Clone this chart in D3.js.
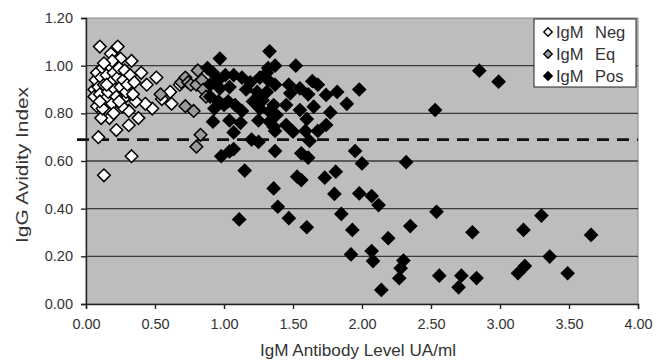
<!DOCTYPE html>
<html><head><meta charset="utf-8">
<script src="https://cdn.jsdelivr.net/npm/d3@7"></script>
<style>
body{margin:0;background:#fff}
svg{display:block}
text{font-family:Arial,"Liberation Sans",sans-serif;fill:#333}
</style>
</head><body>
<svg id="c" width="666" height="362"></svg>
<script>
// ---- data ----
const xTicks=[0,0.5,1,1.5,2,2.5,3,3.5,4];
const yTicks=[0,0.2,0.4,0.6,0.8,1.0,1.2];
const thresholdY=0.69;
const xTitle="IgM Antibody Level UA/ml";
const yTitle="IgG Avidity Index";
const legendPrefix="IgM";
const seriesNames=["Neg","Eq","Pos"];

const negX=[0.10,0.23,0.18,0.25,0.33,0.40,0.51,0.44,0.61,0.62,0.55,0.48,0.43,0.38,0.31,0.22,0.17,0.11,0.09,0.33,0.13,0.31,0.27,0.36,
 0.06,0.07,0.06,0.08,0.09,0.10,0.11,0.12,0.13,0.14,0.15,0.16,0.17,0.18,0.19,0.20,0.21,0.22,0.23,0.24,0.25,0.26,0.27,0.28,0.29,0.30,0.32,0.34,0.35,
 0.08,0.12,0.20,0.15,0.19,0.13,0.24,0.10,0.68];
const negY=[1.08,1.08,1.05,1.03,1.02,0.97,0.95,0.92,0.89,0.84,0.86,0.82,0.84,0.78,0.75,0.73,0.78,0.78,0.70,0.62,0.54,0.81,0.86,0.85,
 0.90,0.94,0.87,0.97,0.91,0.88,0.95,0.99,0.92,0.86,0.96,0.89,1.00,0.93,0.84,0.97,0.90,0.87,0.95,0.99,0.91,0.83,0.94,0.98,0.89,0.92,0.96,0.88,0.93,
 0.83,0.82,0.80,0.92,1.02,1.01,0.85,0.85,0.92];

const eqX=[0.54,0.69,0.72,0.74,0.76,0.81,0.80,0.84,0.85,0.87,0.72,0.78,0.83,0.80];
const eqY=[0.88,0.93,0.95,0.93,0.92,0.98,0.92,0.94,0.90,0.87,0.83,0.81,0.71,0.66];

const posX=[0.97,0.92,0.96,1.01,1.07,1.13,1.19,1.26,1.31,0.90,0.97,1.04,1.16,1.24,0.90,0.96,1.03,1.08,1.21,1.28,
 0.93,1.00,1.26,0.92,1.04,1.12,1.13,1.25,1.07,1.20,1.25,1.07,1.04,0.98,1.15,0.88,1.32,1.33,1.37,1.52,
 1.98,1.89,1.64,1.68,1.82,1.74,1.61,1.55,1.47,1.48,1.37,1.32,1.65,1.55,1.45,1.36,1.77,1.60,1.74,1.68,
 1.45,1.50,1.59,1.62,1.37,1.37,1.95,1.56,1.61,2.00,1.53,1.56,1.73,1.81,1.31,1.33,1.33,1.36,1.38,2.32,
 1.98,2.07,2.12,1.85,2.54,3.30,1.93,2.35,2.19,2.80,3.17,3.66,1.92,2.07,2.08,2.30,2.28,2.27,2.14,2.56,
 2.72,2.70,2.83,3.18,3.13,3.36,3.49,1.36,1.80,1.39,1.47,1.60,1.11,2.85,2.99,2.53];
const posY=[1.03,0.97,0.94,0.96,0.96,0.95,0.93,0.95,0.97,0.92,0.905,0.91,0.90,0.89,0.87,0.85,0.85,0.835,0.85,0.855,
 0.82,0.835,0.82,0.765,0.77,0.76,0.81,0.77,0.72,0.69,0.68,0.65,0.64,0.62,0.56,0.99,0.99,1.06,1.00,1.00,
 0.90,0.84,0.935,0.92,0.89,0.877,0.88,0.905,0.92,0.884,0.92,0.94,0.828,0.814,0.835,0.835,0.804,0.776,0.751,0.726,
 0.751,0.723,0.726,0.684,0.726,0.642,0.642,0.632,0.614,0.59,0.534,0.52,0.53,0.555,0.89,0.807,0.765,0.744,0.793,0.595,
 0.464,0.453,0.415,0.378,0.387,0.371,0.311,0.327,0.276,0.301,0.311,0.29,0.208,0.222,0.18,0.182,0.15,0.108,0.059,0.119,
 0.119,0.07,0.109,0.159,0.129,0.199,0.129,0.485,0.462,0.408,0.36,0.322,0.355,0.979,0.933,0.814];

// ---- chart ----
const svg=d3.select("#c");
const L=86,R=638,T=18,B=304;
const x=d3.scaleLinear().domain([0,4]).range([L,R]);
const y=d3.scaleLinear().domain([0,1.2]).range([B,T]);

svg.append("rect").attr("x",L).attr("y",T).attr("width",R-L).attr("height",B-T)
  .attr("fill","#bdbdbd").attr("stroke","#8a8a8a").attr("stroke-width",1);

// gridlines
svg.append("g").selectAll("line").data(yTicks.filter(d=>d>0&&d<1.2)).join("line")
  .attr("x1",L).attr("x2",R).attr("y1",d=>y(d)).attr("y2",d=>y(d))
  .attr("stroke","#3a3a3a").attr("stroke-width",1.3);

// threshold dashed line
svg.append("line").attr("x1",x(0)-9).attr("x2",R).attr("y1",y(thresholdY)).attr("y2",y(thresholdY))
  .attr("stroke","#111").attr("stroke-width",2.8).attr("stroke-dasharray","12,8");

const fmt=d3.format(".2f");
// axes
const xAxis=svg.append("g").attr("transform",`translate(0,${B})`)
  .call(d3.axisBottom(x).tickValues(xTicks).tickFormat(fmt).tickSizeOuter(0).tickSize(5).tickPadding(10));
const yAxis=svg.append("g").attr("transform",`translate(${L},0)`)
  .call(d3.axisLeft(y).tickValues(yTicks).tickFormat(fmt).tickSizeOuter(0).tickSize(5).tickPadding(8));
[xAxis,yAxis].forEach(a=>{
  a.select(".domain").attr("stroke","#222").attr("stroke-width",1.4);
  a.selectAll(".tick line").attr("stroke","#222").attr("stroke-width",1.4);
  a.selectAll(".tick text").attr("font-size",14.5).attr("fill","#3a3a3a").attr("font-family","Arial, Liberation Sans, sans-serif");
});

// diamond symbol
const diamond={draw(ctx,size){const r=Math.sqrt(size/2);ctx.moveTo(0,-r);ctx.lineTo(r,0);ctx.lineTo(0,r);ctx.lineTo(-r,0);ctx.closePath();}};
const sym=d3.symbol().type(diamond).size(2*6.3*6.3);
const series=[
  {xs:negX,ys:negY,fill:"#ffffff"},
  {xs:eqX,ys:eqY,fill:"#9a9a9a"},
  {xs:posX,ys:posY,fill:"#000000"}
];
series.forEach(s=>{
  svg.append("g").selectAll("path").data(s.xs.map((v,i)=>[v,s.ys[i]])).join("path")
    .attr("d",sym).attr("transform",d=>`translate(${x(d[0])},${y(d[1])})`)
    .attr("fill",s.fill).attr("stroke","#000").attr("stroke-width",1.5);
});

// titles
svg.append("text").attr("x",(L+R)/2-4).attr("y",356).attr("text-anchor","middle")
  .attr("font-size",16.5).attr("fill","#333").attr("textLength",196).attr("lengthAdjust","spacingAndGlyphs").text(xTitle);
svg.append("text").attr("transform",`translate(28,${(T+B)/2+4}) rotate(-90)`).attr("text-anchor","middle")
  .attr("font-size",17).attr("fill","#333").attr("textLength",156).attr("lengthAdjust","spacingAndGlyphs").text(yTitle);

// legend
const lg=svg.append("g");
lg.append("rect").attr("x",534).attr("y",19).attr("width",102).attr("height",68)
  .attr("fill","#fff").attr("stroke","#222").attr("stroke-width",1);
const lsym=d3.symbol().type(diamond).size(2*4.2*4.2);
seriesNames.forEach((n,i)=>{
  const yy=32+22*i;
  lg.append("path").attr("d",lsym).attr("transform",`translate(548,${yy})`)
    .attr("fill",series[i].fill).attr("stroke","#000").attr("stroke-width",1.4);
  const t=lg.append("text").attr("y",yy+6).attr("font-size",16.5).attr("fill","#222");
  t.append("tspan").attr("x",556).text(legendPrefix);
  t.append("tspan").attr("x",595).text(n);
});
</script>
</body></html>
